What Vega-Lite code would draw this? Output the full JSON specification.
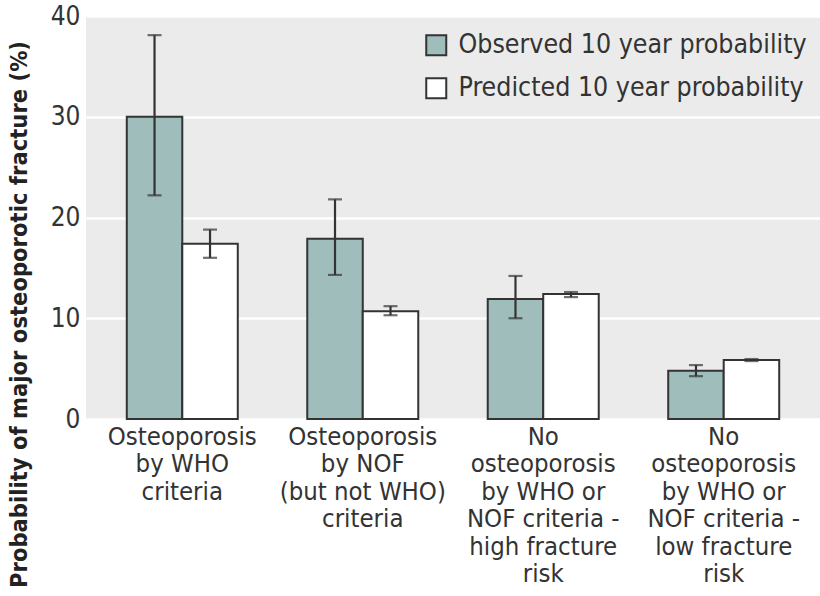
{
  "$schema": "https://vega.github.io/schema/vega-lite/v6.json",
  "width": 734,
  "height": 403,
  "autosize": {"type": "none"},
  "padding": {"left": 86, "top": 16, "right": 0, "bottom": 177},
  "background": "white",
  "config": {
    "view": {"fill": "#ebebeb", "stroke": null},
    "font": "Liberation Sans Narrow, DejaVu Sans Condensed, sans-serif"
  },
  "data": {
    "values": [
      {"group": "Osteoporosis|by WHO|criteria", "series": "Observed 10 year probability", "value": 30.0, "lo": 22.2, "hi": 38.1},
      {"group": "Osteoporosis|by WHO|criteria", "series": "Predicted 10 year probability", "value": 17.4, "lo": 16.0, "hi": 18.8},
      {"group": "Osteoporosis|by NOF|(but not WHO)|criteria", "series": "Observed 10 year probability", "value": 17.9, "lo": 14.3, "hi": 21.8},
      {"group": "Osteoporosis|by NOF|(but not WHO)|criteria", "series": "Predicted 10 year probability", "value": 10.7, "lo": 10.3, "hi": 11.2},
      {"group": "No|osteoporosis|by WHO or|NOF criteria -|high fracture|risk", "series": "Observed 10 year probability", "value": 11.9, "lo": 10.0, "hi": 14.2},
      {"group": "No|osteoporosis|by WHO or|NOF criteria -|high fracture|risk", "series": "Predicted 10 year probability", "value": 12.4, "lo": 12.1, "hi": 12.6},
      {"group": "No|osteoporosis|by WHO or|NOF criteria -|low fracture|risk", "series": "Observed 10 year probability", "value": 4.8, "lo": 4.25, "hi": 5.35},
      {"group": "No|osteoporosis|by WHO or|NOF criteria -|low fracture|risk", "series": "Predicted 10 year probability", "value": 5.85, "lo": 5.75, "hi": 5.95}
    ]
  },
  "encoding": {
    "x": {
      "field": "group", "type": "nominal", "sort": null,
      "scale": {"paddingInner": 0.385, "paddingOuter": 0.226},
      "axis": {
        "title": null, "labelAngle": 0, "domain": false, "ticks": false,
        "labelExpr": "split(datum.label, '|')",
        "labelFontSize": 25.5, "labelLineHeight": 27.5, "labelColor": "#333333",
        "labelPadding": 5, "labelBaseline": "top", "labelLimit": 0
      }
    },
    "xOffset": {
      "field": "series", "type": "nominal",
      "scale": {"paddingInner": 0, "paddingOuter": 0}
    }
  },
  "layer": [
    {
      "mark": {"type": "bar", "stroke": "#333333", "strokeWidth": 2},
      "encoding": {
        "y": {
          "field": "value", "type": "quantitative",
          "scale": {"domain": [0, 40], "nice": false},
          "axis": {
            "values": [0, 10, 20, 30, 40], "domain": false, "ticks": false,
            "gridColor": "white", "gridWidth": 2.5,
            "labelFontSize": 26, "labelColor": "#333333", "labelPadding": 6,
            "title": "Probability of major osteoporotic fracture (%)",
            "titleFontSize": 23.5, "titleFontWeight": "bold", "titleColor": "#222222",
            "titleAngle": -90, "titleX": -60, "titleY": 298,
            "titleAlign": "center", "titleBaseline": "alphabetic"
          }
        },
        "fill": {
          "field": "series", "type": "nominal",
          "scale": {"range": ["#9fbdbb", "#ffffff"]},
          "legend": {
            "title": null, "orient": "none", "legendX": 337, "legendY": 16,
            "symbolType": "square", "symbolSize": 400,
            "symbolStrokeColor": "#333333", "symbolStrokeWidth": 2,
            "labelFontSize": 26.5, "labelColor": "#333333", "labelLimit": 0,
            "rowPadding": 14, "labelOffset": 9
          }
        }
      }
    },
    {
      "mark": {"type": "rule", "color": "#333333", "strokeWidth": 2.2},
      "encoding": {
        "y": {"field": "lo", "type": "quantitative"},
        "y2": {"field": "hi"}
      }
    },
    {
      "mark": {"type": "tick", "color": "#333333", "thickness": 2.2, "size": 14},
      "encoding": {"y": {"field": "lo", "type": "quantitative"}}
    },
    {
      "mark": {"type": "tick", "color": "#333333", "thickness": 2.2, "size": 14},
      "encoding": {"y": {"field": "hi", "type": "quantitative"}}
    }
  ]
}
